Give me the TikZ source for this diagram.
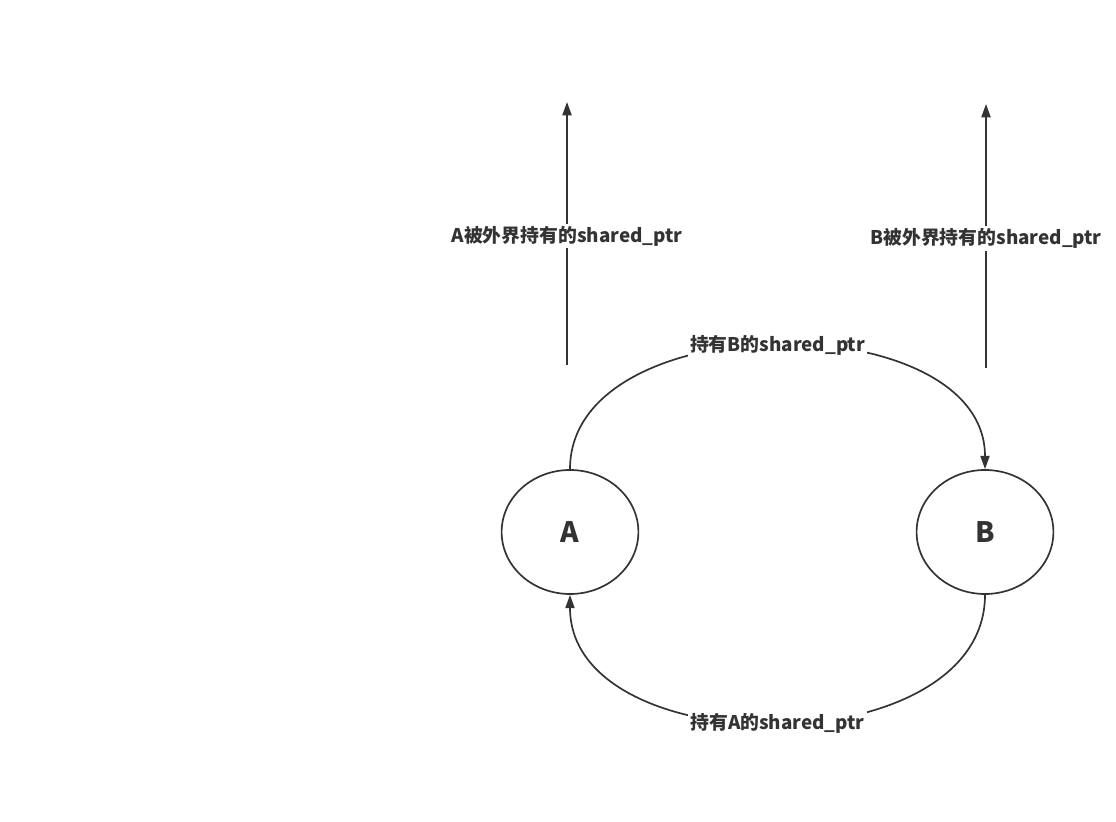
\documentclass[tikz,border=0pt]{standalone}
\usepackage{fontspec}
\setmainfont{Noto Sans CJK SC}
\usepackage{tikz}
\usetikzlibrary{arrows.meta, positioning, shapes.geometric}

\begin{document}
\begin{tikzpicture}[
  line width=1.2pt,
  every node/.style={text=black!80},
  objnode/.style={
    draw=black!80, ellipse, minimum width=3.42cm, minimum height=3.1cm,
    inner sep=0pt, font=\fontsize{20}{24}\selectfont\bfseries
  },
  reflabel/.style={
    fill=white, inner sep=1.5pt, font=\fontsize{13.4}{16}\selectfont\bfseries
  },
  refarrow/.style={draw=black!80, -{Triangle[length=9.5pt, width=6.5pt]}}
]
\useasboundingbox (0,0) rectangle (27.9,20.55);

% ── Objects ─────────────────────────────────────────────────
\node[objnode] (nodeA) at (14.25,7.25) {A};
\node[objnode] (nodeB) at (24.625,7.25) {B};

% ── External holders ────────────────────────────────────────
\coordinate (extA0) at (14.175,11.425);
\coordinate (extA1) at (14.175,18.0);
\coordinate (extB0) at (24.65,11.35);
\coordinate (extB1) at (24.65,17.95);

\draw[refarrow] (extA0) -- (extA1)
    node[reflabel, pos=0.49] (labA) {A被外界持有的shared\_ptr};
\draw[refarrow] (extB0) -- (extB1)
    node[reflabel, pos=0.49] (labB) {B被外界持有的shared\_ptr};

% ── Mutual references ───────────────────────────────────────
\draw[refarrow] (nodeA.north) .. controls +(0,4.13) and +(0,4.13) .. (nodeB.north)
    node[reflabel, pos=0.5] (labAB) {持有B的shared\_ptr};
\draw[refarrow] (nodeB.south) .. controls +(0,-4.27) and +(0,-4.27) .. (nodeA.south)
    node[reflabel, pos=0.5] (labBA) {持有A的shared\_ptr};

\end{tikzpicture}
\end{document}
